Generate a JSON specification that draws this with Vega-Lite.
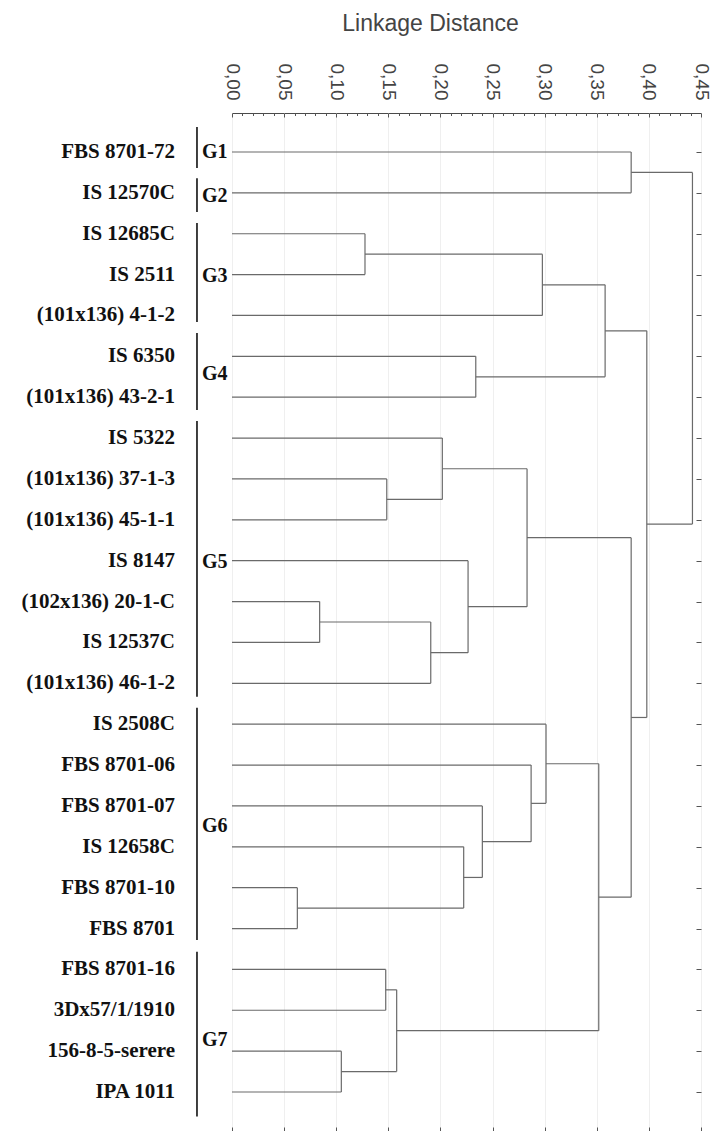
{
  "$schema": "https://vega.github.io/schema/vega-lite/v6.json",
  "width": 469,
  "height": 1018,
  "autosize": {"type": "none"},
  "padding": {"left": 232, "top": 113, "right": 14, "bottom": 0},
  "background": "white",
  "config": {
    "view": {"stroke": "#4a4a4a", "strokeWidth": 1},
    "axis": {"domain": false, "grid": false, "tickColor": "#555", "labelFont": "Liberation Sans", "titleFont": "Liberation Sans"}
  },
  "datasets": {
    "nodes": [
      {"node": "N1", "height": 0.383, "yA": 0, "hA": 0, "yB": 1, "hB": 0},
      {"node": "N2", "height": 0.1276, "yA": 2, "hA": 0, "yB": 3, "hB": 0},
      {"node": "N3", "height": 0.2978, "yA": 2.5, "hA": 0.1276, "yB": 4, "hB": 0},
      {"node": "N4", "height": 0.2339, "yA": 5, "hA": 0, "yB": 6, "hB": 0},
      {"node": "N5", "height": 0.358, "yA": 3.25, "hA": 0.2978, "yB": 5.5, "hB": 0.2339},
      {"node": "N6", "height": 0.1485, "yA": 8, "hA": 0, "yB": 9, "hB": 0},
      {"node": "N7", "height": 0.2018, "yA": 7, "hA": 0, "yB": 8.5, "hB": 0.1485},
      {"node": "N8", "height": 0.0841, "yA": 11, "hA": 0, "yB": 12, "hB": 0},
      {"node": "N9", "height": 0.1907, "yA": 11.5, "hA": 0.0841, "yB": 13, "hB": 0},
      {"node": "N10", "height": 0.2265, "yA": 10, "hA": 0, "yB": 12.25, "hB": 0.1907},
      {"node": "N11", "height": 0.2831, "yA": 7.75, "hA": 0.2018, "yB": 11.125, "hB": 0.2265},
      {"node": "N12", "height": 0.0627, "yA": 18, "hA": 0, "yB": 19, "hB": 0},
      {"node": "N13", "height": 0.2223, "yA": 17, "hA": 0, "yB": 18.5, "hB": 0.0627},
      {"node": "N14", "height": 0.2402, "yA": 16, "hA": 0, "yB": 17.75, "hB": 0.2223},
      {"node": "N15", "height": 0.287, "yA": 15, "hA": 0, "yB": 16.875, "hB": 0.2402},
      {"node": "N16", "height": 0.3013, "yA": 14, "hA": 0, "yB": 15.9375, "hB": 0.287},
      {"node": "N17", "height": 0.1475, "yA": 20, "hA": 0, "yB": 21, "hB": 0},
      {"node": "N18", "height": 0.1049, "yA": 22, "hA": 0, "yB": 23, "hB": 0},
      {"node": "N19", "height": 0.158, "yA": 20.5, "hA": 0.1475, "yB": 22.5, "hB": 0.1049},
      {"node": "N20", "height": 0.3519, "yA": 14.96875, "hA": 0.3013, "yB": 21.5, "hB": 0.158},
      {"node": "N21", "height": 0.383, "yA": 9.4375, "hA": 0.2831, "yB": 18.234, "hB": 0.3519},
      {"node": "N22", "height": 0.398, "yA": 4.375, "hA": 0.358, "yB": 13.836, "hB": 0.383},
      {"node": "N23", "height": 0.4418, "yA": 0.5, "hA": 0.383, "yB": 9.105, "hB": 0.398}
    ],
    "leaves": [
      {"leaf": "FBS 8701-72", "pos": 0},
      {"leaf": "IS 12570C", "pos": 1},
      {"leaf": "IS 12685C", "pos": 2},
      {"leaf": "IS 2511", "pos": 3},
      {"leaf": "(101x136) 4-1-2", "pos": 4},
      {"leaf": "IS 6350", "pos": 5},
      {"leaf": "(101x136) 43-2-1", "pos": 6},
      {"leaf": "IS 5322", "pos": 7},
      {"leaf": "(101x136) 37-1-3", "pos": 8},
      {"leaf": "(101x136) 45-1-1", "pos": 9},
      {"leaf": "IS 8147", "pos": 10},
      {"leaf": "(102x136) 20-1-C", "pos": 11},
      {"leaf": "IS 12537C", "pos": 12},
      {"leaf": "(101x136) 46-1-2", "pos": 13},
      {"leaf": "IS 2508C", "pos": 14},
      {"leaf": "FBS 8701-06", "pos": 15},
      {"leaf": "FBS 8701-07", "pos": 16},
      {"leaf": "IS 12658C", "pos": 17},
      {"leaf": "FBS 8701-10", "pos": 18},
      {"leaf": "FBS 8701", "pos": 19},
      {"leaf": "FBS 8701-16", "pos": 20},
      {"leaf": "3Dx57/1/1910", "pos": 21},
      {"leaf": "156-8-5-serere", "pos": 22},
      {"leaf": "IPA 1011", "pos": 23}
    ],
    "groups": [
      {"group": "G1", "from": -0.61, "to": 0.39, "labelPos": 0},
      {"group": "G2", "from": 0.64, "to": 1.47, "labelPos": 1.08},
      {"group": "G3", "from": 1.74, "to": 4.16, "labelPos": 3.03},
      {"group": "G4", "from": 4.43, "to": 6.31, "labelPos": 5.43},
      {"group": "G5", "from": 6.58, "to": 13.33, "labelPos": 10.03},
      {"group": "G6", "from": 13.6, "to": 19.28, "labelPos": 16.49},
      {"group": "G7", "from": 19.57, "to": 23.6, "labelPos": 21.73}
    ]
  },
  "resolve": {"axis": {"x": "independent", "y": "independent"}},
  "layer": [
    {
      "data": {"name": "nodes"},
      "mark": {"type": "rule", "color": "#6a6a6a", "strokeWidth": 1.2},
      "encoding": {
        "x": {"field": "height", "type": "quantitative",
          "scale": {"domain": [0, 0.45], "nice": false, "zero": false},
          "axis": {"orient": "top", "values": [0, 0.05, 0.1, 0.15, 0.2, 0.25, 0.3, 0.35, 0.4, 0.45],
            "labelExpr": "replace(format(datum.value, '.2f'), '.', ',')",
            "tickSize": -4, "labelAngle": 90, "labelAlign": "right", "labelBaseline": "middle",
            "labelPadding": 17, "labelFontSize": 19, "labelColor": "#444", "labelFlush": false, "labelOverlap": false,
            "title": "Linkage Distance", "titleFontSize": 23, "titleFontWeight": "normal", "titleColor": "#444",
            "titleX": 198, "titleY": -83, "titleAlign": "center", "titleBaseline": "alphabetic", "titleAngle": 0}},
        "y": {"field": "yA", "type": "quantitative",
          "scale": {"domain": [-0.954, 23.954], "nice": false, "zero": false, "reverse": true},
          "axis": {"orient": "right", "values": [0,1,2,3,4,5,6,7,8,9,10,11,12,13,14,15,16,17,18,19,20,21,22,23],
            "labels": false, "tickSize": -5, "title": null}},
        "y2": {"field": "yB"}
      }
    },
    {
      "data": {"name": "nodes"},
      "mark": {"type": "rule", "color": "#6a6a6a", "strokeWidth": 1.2},
      "encoding": {
        "x": {"field": "hA", "type": "quantitative",
          "scale": {"domain": [0, 0.45], "nice": false, "zero": false},
          "axis": {"orient": "bottom", "values": [0, 0.05, 0.1, 0.15, 0.2, 0.25, 0.3, 0.35, 0.4, 0.45],
            "labels": false, "tickSize": -4, "grid": true, "gridColor": "#efefef", "title": null}},
        "x2": {"field": "height"},
        "y": {"field": "yA", "type": "quantitative",
          "scale": {"domain": [-0.954, 23.954], "nice": false, "zero": false, "reverse": true}, "axis": null}
      }
    },
    {
      "data": {"name": "nodes"},
      "mark": {"type": "rule", "color": "#6a6a6a", "strokeWidth": 1.2},
      "encoding": {
        "x": {"field": "hB", "type": "quantitative",
          "scale": {"domain": [0, 0.45], "nice": false, "zero": false},
          "axis": {"orient": "top", "values": [0.01,0.02,0.03,0.04,0.06,0.07,0.08,0.09,0.11,0.12,0.13,0.14,0.16,0.17,0.18,0.19,0.21,0.22,0.23,0.24,0.26,0.27,0.28,0.29,0.31,0.32,0.33,0.34,0.36,0.37,0.38,0.39,0.41,0.42,0.43,0.44],
            "labels": false, "tickSize": -2.5, "title": null}},
        "x2": {"field": "height"},
        "y": {"field": "yB", "type": "quantitative",
          "scale": {"domain": [-0.954, 23.954], "nice": false, "zero": false, "reverse": true}, "axis": null}
      }
    },
    {
      "data": {"name": "leaves"},
      "mark": {"type": "text", "font": "Liberation Serif", "fontWeight": "bold", "fontSize": 21, "color": "#111", "align": "right", "baseline": "middle"},
      "encoding": {
        "x": {"datum": -0.0547, "type": "quantitative", "scale": {"domain": [0, 0.45], "nice": false, "zero": false}, "axis": null},
        "y": {"field": "pos", "type": "quantitative",
          "scale": {"domain": [-0.954, 23.954], "nice": false, "zero": false, "reverse": true}, "axis": null},
        "text": {"field": "leaf"}
      }
    },
    {
      "data": {"name": "groups"},
      "mark": {"type": "rule", "color": "#111", "strokeWidth": 1.6},
      "encoding": {
        "x": {"datum": -0.0336, "type": "quantitative", "scale": {"domain": [0, 0.45], "nice": false, "zero": false}, "axis": null},
        "y": {"field": "from", "type": "quantitative",
          "scale": {"domain": [-0.954, 23.954], "nice": false, "zero": false, "reverse": true}, "axis": null},
        "y2": {"field": "to"}
      }
    },
    {
      "data": {"name": "groups"},
      "mark": {"type": "text", "font": "Liberation Serif", "fontWeight": "bold", "fontSize": 20, "color": "#111", "align": "left", "baseline": "middle"},
      "encoding": {
        "x": {"datum": -0.0288, "type": "quantitative", "scale": {"domain": [0, 0.45], "nice": false, "zero": false}, "axis": null},
        "y": {"field": "labelPos", "type": "quantitative",
          "scale": {"domain": [-0.954, 23.954], "nice": false, "zero": false, "reverse": true}, "axis": null},
        "text": {"field": "group"}
      }
    }
  ]
}
